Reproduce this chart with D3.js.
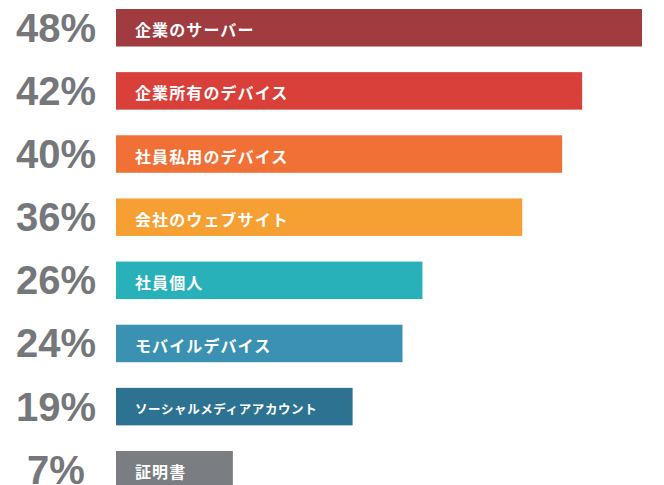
<!DOCTYPE html>
<html>
<head>
<meta charset="utf-8">
<script src="https://cdn.jsdelivr.net/npm/d3@7"></script>
<style>
  html, body { margin: 0; padding: 0; background: #ffffff; }
  svg { display: block; }
</style>
</head>
<body>
<svg id="chart" width="664" height="485"></svg>
<script>
const categories = ["企業のサーバー", "企業所有のデバイス", "社員私用のデバイス", "会社のウェブサイト", "社員個人", "モバイルデバイス", "ソーシャルメディアアカウント", "証明書"];
const values = [48, 42, 40, 36, 26, 24, 19, 7];
const percentLabels = ["48%", "42%", "40%", "36%", "26%", "24%", "19%", "7%"];
const colors = ["#a03c3f", "#d9403a", "#f07036", "#f6a034", "#28b1b9", "#3a91b1", "#2d7391", "#7a7d81"];

const svg = d3.select("#chart");
const barX = 116;

const y = d3.scaleBand()
  .domain(categories)
  .range([9, 488.5])
  .paddingInner(0.406)
  .paddingOuter(0);

const w = d3.scaleLinear()
  .domain([0, 48])
  .range([47, 526]);

const rows = svg.selectAll("g.row")
  .data(categories)
  .join("g")
  .attr("class", "row");

rows.append("rect")
  .attr("x", barX)
  .attr("y", d => y(d))
  .attr("width", (d, i) => w(values[i]))
  .attr("height", y.bandwidth())
  .attr("fill", (d, i) => colors[i]);

rows.append("text")
  .attr("x", 56)
  .attr("y", d => y(d) + y.bandwidth() / 2 + 14)
  .attr("text-anchor", "middle")
  .attr("font-family", "'Liberation Sans', Arial, Helvetica, sans-serif")
  .attr("font-weight", "bold")
  .attr("font-size", 40)
  .attr("fill", "#75777b")
  .text((d, i) => percentLabels[i]);

rows.append("text")
  .attr("x", barX + 19)
  .attr("y", d => y(d) + y.bandwidth() / 2 + 1.5)
  .attr("dominant-baseline", "central")
  .attr("font-family", "'Noto Sans CJK JP', sans-serif")
  .attr("font-weight", "bold")
  .attr("font-size", d => d.length > 10 ? 12.5 : 16)
  .attr("letter-spacing", d => d.length > 10 ? 0.6 : 1.1)
  .attr("fill", "#ffffff")
  .text(d => d);
</script>
</body>
</html>
